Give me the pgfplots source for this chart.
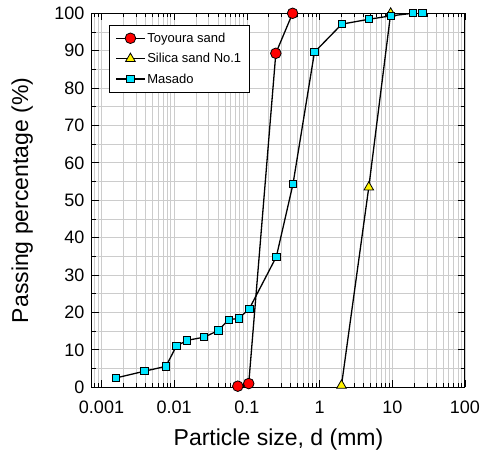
\documentclass[border=0pt]{standalone}
\usepackage{fontspec}
\setmainfont{Liberation Sans}
\usepackage{pgfplots}
\pgfplotsset{compat=1.18}
\definecolor{gridgray}{gray}{0.8}
\definecolor{masado}{rgb}{0,0.9,1}

\begin{document}
\begin{tikzpicture}
  \begin{semilogxaxis}[
    width=373pt, height=374pt,
    scale only axis,
    xmin=0.00074, xmax=100,
    ymin=0, ymax=100,
    xtick={0.001,0.01,0.1,1,10,100},
    xticklabels={0.001,0.01,0.1,1,10,100},
    minor xtick={0.0008,0.0009,
      0.002,0.003,0.004,0.005,0.006,0.007,0.008,0.009,
      0.02,0.03,0.04,0.05,0.06,0.07,0.08,0.09,
      0.2,0.3,0.4,0.5,0.6,0.7,0.8,0.9,
      2,3,4,5,6,7,8,9,
      20,30,40,50,60,70,80,90},
    ytick={0,10,...,100},
    minor ytick={5,15,...,95},
    grid=both,
    major grid style={gridgray, line width=0.8pt},
    minor grid style={gridgray, line width=0.8pt},
    tick align=inside,
    major tick length=7pt,
    minor tick length=4pt,
    every tick/.style={black, line width=0.8pt},
    axis line style={line width=1pt},
    /pgf/number format/assume math mode=true,
    tick label style={font=\fontsize{18}{20}\selectfont},
    xticklabel style={yshift=-10pt},
    yticklabel style={xshift=-4pt},
    label style={font=\fontsize{23}{26}\selectfont},
    xlabel={Particle size, d (mm)},
    ylabel={Passing percentage (\%)},
    xlabel style={yshift=-9pt, inner ysep=3pt},
    ylabel style={yshift=6pt, inner ysep=12pt},
    legend style={at={(0.046,0.969)}, anchor=north west,
      draw=black, line width=0.8pt, fill=white,
      font=\fontsize{13}{15}\selectfont,
      row sep=5.5pt, inner xsep=6pt, inner ysep=5.5pt},
    legend cell align=left,
    legend image code/.code={\draw[mark repeat=2,mark phase=2,#1]
      plot coordinates {(0cm,0cm) (0.5cm,0cm) (1cm,0cm)};},
  ]

  \addplot[black, line width=1.3pt, mark=*, mark size=5.3pt,
    mark options={fill=red, draw=black, line width=0.8pt}]
  coordinates {
    (0.075,0.3) (0.106,1.0) (0.25,89.3) (0.425,100)
  };
  \addlegendentry{Toyoura sand}

  \addplot[black, line width=1.3pt, mark=triangle*, mark size=5.5pt,
    mark options={fill=yellow, draw=black, line width=0.8pt}]
  coordinates {
    (2.0,0.5) (4.75,53.5) (9.5,100)
  };
  \addlegendentry{Silica sand No.1}

  \addplot[black, line width=1.3pt, mark=square*, mark size=3.6pt,
    mark options={fill=masado, draw=black, line width=0.8pt}]
  coordinates {
    (0.00158,2.5) (0.0039,4.3) (0.0077,5.6) (0.0107,11.0)
    (0.015,12.55) (0.0258,13.4) (0.0406,15.2) (0.056,18.1)
    (0.077,18.4) (0.108,21.0) (0.254,34.9) (0.43,54.3)
    (0.85,89.6) (2.02,97.1) (4.75,98.4) (9.45,99.3)
    (19,100) (26,100)
  };
  \addlegendentry{Masado}

  \end{semilogxaxis}
  % page frame: same margins round the axis as in the reference
  \pgfresetboundingbox
  \path ([shift={(-92pt,-69pt)}]current axis.south west)
    rectangle ([shift={(15pt,13.3pt)}]current axis.north east);
\end{tikzpicture}
\end{document}
